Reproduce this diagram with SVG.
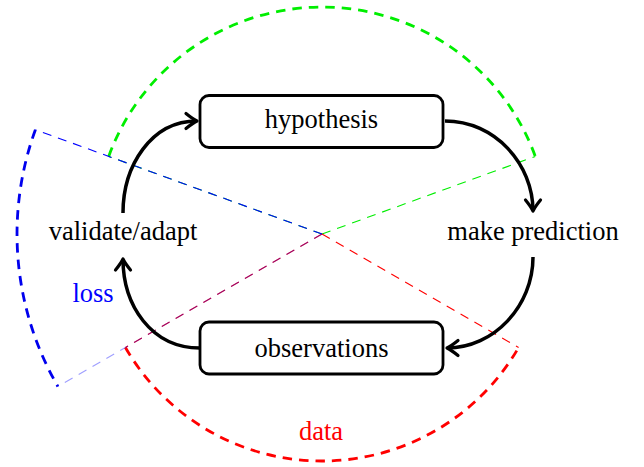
<svg xmlns="http://www.w3.org/2000/svg" width="644" height="467" viewBox="0 0 644 467">
  <style>
    .lbl { font-family: "Liberation Serif", "Times New Roman", serif; font-size: 26.5px; text-anchor: middle; fill: #000; }
    .box { fill: #fff; stroke: #000; stroke-width: 2.8; }
    .arc { fill: none; stroke-width: 2.8; stroke-dasharray: 9.5 7; }
    .ray { fill: none; stroke-width: 1.1; stroke-dasharray: 9 7; }
    .flow { fill: none; stroke: #000; stroke-width: 3.5; marker-end: url(#tip); }
  </style>
  <defs>
    <marker id="tip" markerUnits="userSpaceOnUse" markerWidth="24" markerHeight="24" refX="0" refY="0" viewBox="-14 -12 16 24" orient="auto" overflow="visible">
      <path d="M-11,-7.5 Q-4.5,-2.2 0,0 Q-4.5,2.2 -11,7.5" fill="none" stroke="#000" stroke-width="3.2" stroke-linecap="round" stroke-linejoin="round"/>
    </marker>
  </defs>

  <g id="sectors">
    <g id="sector-green">
      <path class="arc" stroke="#00ee00" d="M108.7,156.4 A227,227 0 0 1 535.3,156.4"/>
      <path class="ray" stroke="#00ee00" d="M322,234 L535.3,156.4 M322,234 L108.7,156.4"/>
    </g>
    <g id="sector-red">
      <path class="arc" stroke="#ff0000" d="M125.4,347.5 A227,227 0 0 0 518.6,347.5"/>
      <path class="ray" stroke="#ff0000" d="M322,234 L125.4,347.5 M322,234 L518.6,347.5"/>
    </g>
    <g id="sector-blue">
      <path class="arc" stroke="#0000ee" d="M35.4,129.7 A305,305 0 0 0 57.9,386.5"/>
      <path class="ray" stroke="#0000ff" stroke-width="1.3" d="M322,234 L35.4,129.7"/>
      <path class="ray" stroke="#0000ff" stroke-opacity="0.38" d="M322,234 L57.9,386.5"/>
    </g>
    <text class="lbl" x="93" y="302" style="fill:#0000ff">loss</text>
    <text class="lbl" x="321" y="440" style="fill:#ff0000">data</text>
  </g>

  <g id="connectors">
    <path class="flow" d="M123,213 C123,166 151,121 197,121"/>
    <path class="flow" d="M445,121 C495,121 533,164 533,211"/>
    <path class="flow" d="M533,257 C533,306 494,348 447,348"/>
    <path class="flow" d="M200,348 C151,348 123,305 123,259"/>
  </g>

  <g id="node-hypothesis">
    <rect class="box" x="200" y="95.5" width="243" height="52" rx="9"/>
    <text class="lbl" x="321.5" y="128">hypothesis</text>
  </g>
  <g id="node-prediction">
    <text class="lbl" x="533" y="240">make prediction</text>
  </g>
  <g id="node-observations">
    <rect class="box" x="200" y="322" width="243" height="52" rx="9"/>
    <text class="lbl" x="321.5" y="357">observations</text>
  </g>
  <g id="node-validate">
    <text class="lbl" x="123" y="240">validate/adapt</text>
  </g>
</svg>
